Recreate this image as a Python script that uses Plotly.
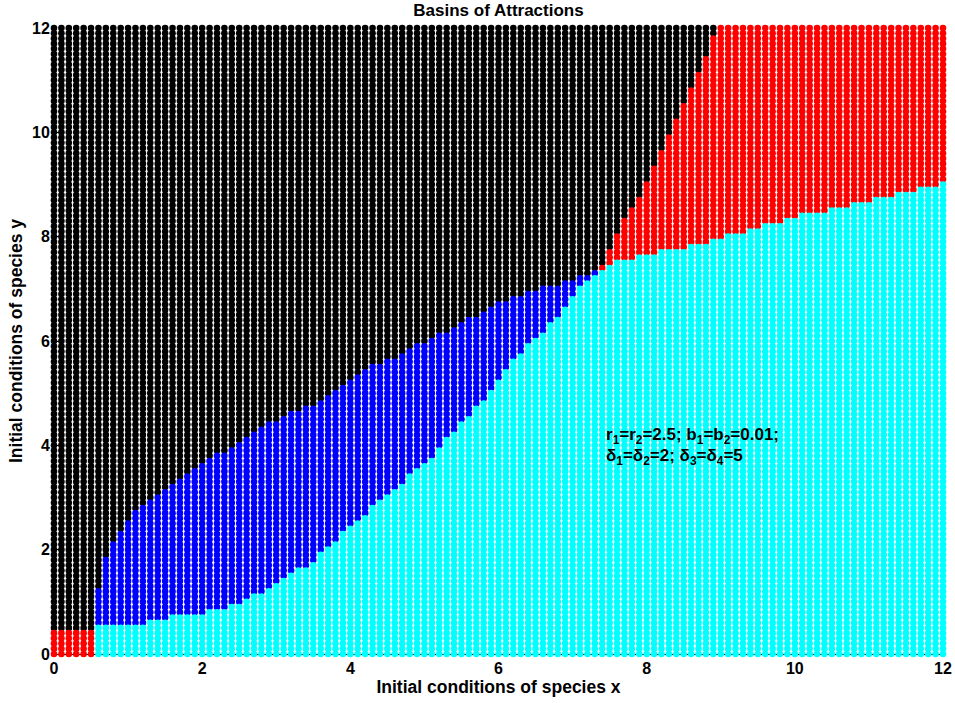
import numpy as np
import plotly.graph_objects as go

# initial-condition lattice (both species), step 0.1 on [0, 12]
grid_x = np.round(np.linspace(0, 12, 121), 1)
grid_y = np.round(np.linspace(0, 12, 121), 1)

# basin boundaries (x, y vertices)
# upper edge of the cyan basin
cyan_top_x = [0.6, 1.2, 1.3, 1.9, 2.3, 2.7, 3.1, 3.5, 3.9, 4.3, 4.7, 5.1, 5.5, 5.9,
              6.3, 6.7, 7.0, 7.2, 7.3, 7.4, 7.5, 7.6, 7.8, 8.2, 8.6, 9.1, 9.3, 10.0, 11.0, 12.0]
cyan_top_y = [0.55, 0.58, 0.65, 0.75, 0.85, 1.1, 1.42, 1.77, 2.33, 2.8, 3.29, 3.79, 4.44, 5.02,
              5.79, 6.3, 6.85, 7.15, 7.22, 7.35, 7.45, 7.5, 7.58, 7.71, 7.8, 8.0, 8.06, 8.37, 8.67, 9.0]
# upper edge of the blue basin
blue_top_x = [0.6, 0.7, 0.8, 0.9, 1.0, 1.1, 1.2, 1.3, 1.4, 1.5, 1.9, 2.3, 2.7, 3.1, 3.5,
              3.9, 4.3, 4.7, 5.1, 5.5, 5.9, 6.3, 6.7, 7.0, 7.3]
blue_top_y = [1.23, 1.85, 2.13, 2.35, 2.54, 2.71, 2.83, 2.92, 3.06, 3.17, 3.58, 3.89, 4.25, 4.56, 4.79,
              5.14, 5.5, 5.75, 6.04, 6.33, 6.65, 6.87, 7.04, 7.19, 7.33]
# lower edge of the black basin on the red side
red_black_x = [7.4, 7.5, 7.6, 7.7, 7.8, 7.9, 8.0, 8.1, 8.2, 8.3, 8.4, 8.5, 8.6, 8.7, 8.8, 8.9, 9.0]
red_black_y = [7.45, 7.75, 8.05, 8.35, 8.6, 8.8, 9.1, 9.4, 9.65, 10.0, 10.3, 10.6, 10.9, 11.2, 11.5, 11.9, 12.5]
# small red corner near the origin
corner_x_max = 0.55
corner_y_max = 0.45

colors = {"black": "#000000", "red": "#ff0000", "blue": "#0000ff", "cyan": "#00ffff"}


def basin(x, y):
    if x < corner_x_max:
        return "red" if y < corner_y_max else "black"
    if y < np.interp(x, cyan_top_x, cyan_top_y) + 0.01:
        return "cyan"
    if x < 7.35 and y < np.interp(x, blue_top_x, blue_top_y) + 0.01:
        return "blue"
    if x < 7.35:
        return "black"
    if x < 9.0 and y >= np.interp(x, red_black_x, red_black_y) - 0.01:
        return "black"
    return "red"


pts = {k: ([], []) for k in colors}
for x in grid_x:
    for y in grid_y:
        k = basin(x, y)
        pts[k][0].append(x)
        pts[k][1].append(y)

fam = "Liberation Sans, Arial, sans-serif"
font = dict(family=fam, size=16, color="black", weight="bold")
title_font = dict(family=fam, size=17.5, color="black", weight="bold")

fig = go.Figure()
for k in ["black", "red", "blue", "cyan"]:
    fig.add_trace(go.Scatter(x=pts[k][0], y=pts[k][1], mode="markers", cliponaxis=False,
                             marker=dict(color=colors[k], size=6.6, line=dict(width=0)),
                             showlegend=False, hoverinfo="skip"))

axis = dict(range=[0, 12], tickvals=[0, 2, 4, 6, 8, 10, 12], showgrid=False, zeroline=False,
            showline=True, linecolor="black", linewidth=1, ticks="inside", ticklen=5,
            tickcolor="black", tickfont=font, layer="below traces", automargin=False)

fig.update_layout(
    width=955, height=703,
    margin=dict(l=54, r=12, t=28, b=49, autoexpand=False),
    paper_bgcolor="white", plot_bgcolor="white",
    title=dict(text="Basins of Attractions", x=0.522, xanchor="center", y=0.994, yanchor="top",
               font=dict(family=fam, size=17, color="black", weight="bold")),
    xaxis=dict(axis, title=dict(text="Initial conditions of species x", font=title_font, standoff=2)),
    yaxis=dict(axis, title=dict(text="Initial conditions of species y", font=title_font, standoff=4)),
    font=font,
)

fig.add_annotation(x=7.43, y=4.17, xref="x", yref="y", xanchor="left", yanchor="middle", showarrow=False,
                   text="r<sub>1</sub>=r<sub>2</sub>=2.5; b<sub>1</sub>=b<sub>2</sub>=0.01;",
                   font=dict(font, size=17))
fig.add_annotation(x=7.43, y=3.77, xref="x", yref="y", xanchor="left", yanchor="middle", showarrow=False,
                   text="δ<sub>1</sub>=δ<sub>2</sub>=2; δ<sub>3</sub>=δ<sub>4</sub>=5",
                   font=dict(font, size=17))

fig.write_html("out.html", config={"displayModeBar": False},
               post_script="document.body.style.margin='0';document.body.style.overflow='hidden';")
